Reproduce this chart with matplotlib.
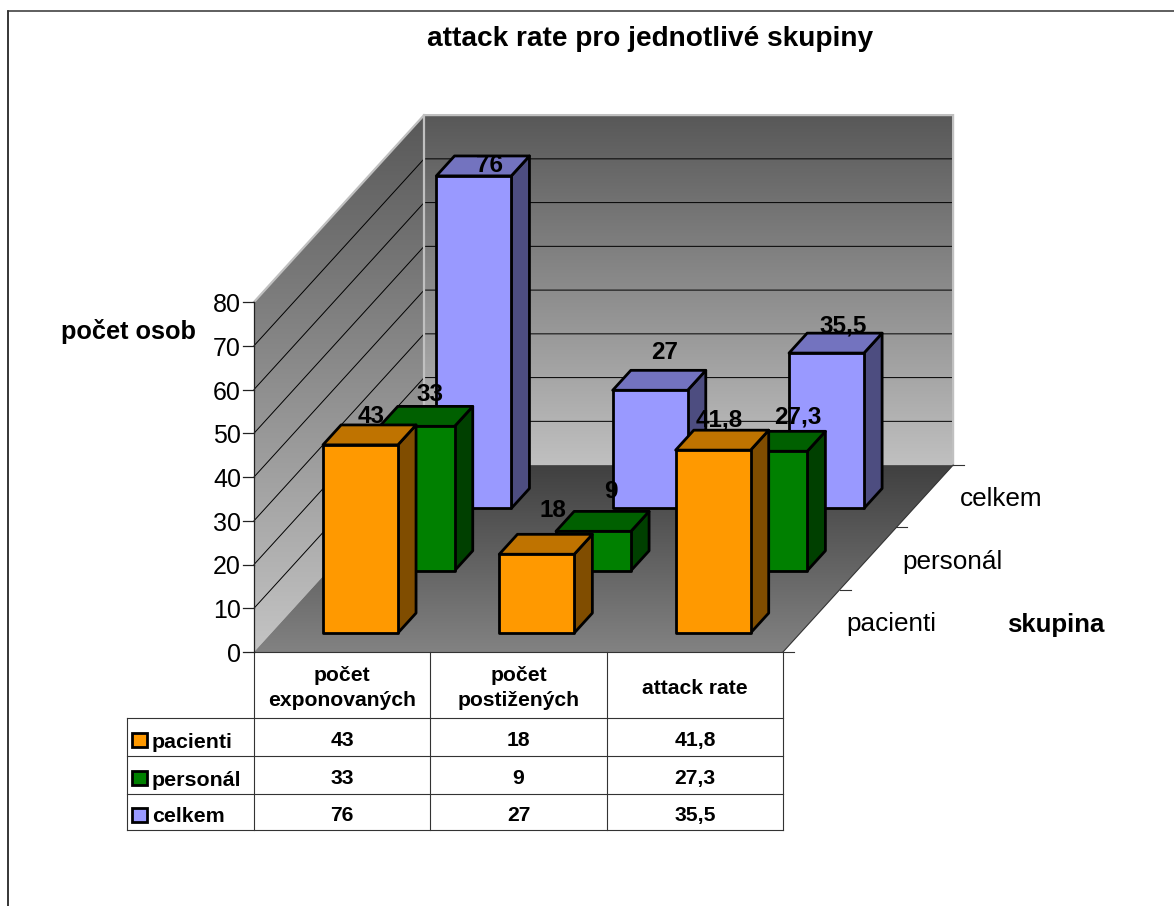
import numpy as np
import matplotlib
matplotlib.use('Agg')
import matplotlib.pyplot as plt
from matplotlib.colors import LinearSegmentedColormap
from matplotlib.patches import Polygon, Rectangle

plt.rcParams['font.family'] = ['Liberation Sans', 'DejaVu Sans']

categories = ['počet\nexponovaných', 'počet\npostižených', 'attack rate']
series_names = ['pacienti', 'personál', 'celkem']
pacienti = [43, 18, 41.8]
personal = [33, 9, 27.3]
celkem = [76, 27, 35.5]
y_ticks = [0, 10, 20, 30, 40, 50, 60, 70, 80]

series_values = [pacienti, personal, celkem]
face_colors = ['#FF9900', '#008000', '#9999FF']
top_colors = ['#BF7300', '#006000', '#7373BF']
side_colors = ['#804D00', '#004000', '#4D4D80']

# shift of each value label from the middle of the bar's top, in pixels
label_shift = [[(2, -8), (7, -24), (-3, -10)],
               [(4, -12), (8, -20), (19, -14)],
               [(7, 10), (5, -18), (8, -7)]]

# oblique projection of the chart box
X0, Y0 = 254, 652
CAT_W = 176.33
DEPTH_X, DEPTH_Y = 56.7, 62.3
UNIT = 4.375
Y_MAX = 80


def project(cat, depth, value):
    return X0 + cat * CAT_W + depth * DEPTH_X, Y0 - value * UNIT - depth * DEPTH_Y


def gradient_poly(ax, points, top, bottom):
    poly = Polygon(points, closed=True, fc='none', ec='none', transform=ax.transData)
    ax.add_patch(poly)
    xs = [p[0] for p in points]
    ys = [p[1] for p in points]
    cmap = LinearSegmentedColormap.from_list('wall', [top, bottom])
    grad = np.linspace(0, 1, 256).reshape(-1, 1)
    img = ax.imshow(grad, cmap=cmap, aspect='auto', zorder=1, interpolation='bilinear',
                    extent=(min(xs), max(xs), max(ys), min(ys)))
    img.set_clip_path(poly)


fig = plt.figure(figsize=(11.74, 9.06), dpi=100)
ax = fig.add_axes([0, 0, 1, 1])

n_cat = len(categories)
n_ser = len(series_names)

# walls and floor
back_wall = [project(0, n_ser, 0), project(n_cat, n_ser, 0),
             project(n_cat, n_ser, Y_MAX), project(0, n_ser, Y_MAX)]
side_wall = [project(0, 0, 0), project(0, n_ser, 0),
             project(0, n_ser, Y_MAX), project(0, 0, Y_MAX)]
floor = [project(0, 0, 0), project(n_cat, 0, 0),
         project(n_cat, n_ser, 0), project(0, n_ser, 0)]
gradient_poly(ax, back_wall, '#585858', '#C0C0C0')
gradient_poly(ax, side_wall, '#585858', '#C4C4C4')
gradient_poly(ax, floor, '#404040', '#828282')

# gridlines
for tick in y_ticks[1:-1]:
    a = project(0, 0, tick)
    b = project(0, n_ser, tick)
    c = project(n_cat, n_ser, tick)
    ax.plot([a[0], b[0], c[0]], [a[1], b[1], c[1]], color='black', lw=0.7, zorder=2)

# light wall edges
edge = [project(0, 0, Y_MAX), project(0, n_ser, Y_MAX), project(n_cat, n_ser, Y_MAX),
        project(n_cat, n_ser, 0)]
ax.plot([p[0] for p in edge], [p[1] for p in edge], color='#C0C0C0', lw=1.6, zorder=2.2,
        solid_joinstyle='miter')
ax.plot([back_wall[0][0], back_wall[3][0]], [back_wall[0][1], back_wall[3][1]],
        color='#C0C0C0', lw=1.6, zorder=2.2)

# value axis
ax.plot([X0, X0], [project(0, 0, 0)[1], project(0, 0, Y_MAX)[1]], color='#222222', lw=0.9, zorder=2.5)
for tick in y_ticks:
    x, y = project(0, 0, tick)
    ax.plot([x - 11, x], [y, y], color='#222222', lw=0.9, zorder=2.5)
    ax.text(x - 13, y + 3, str(tick), ha='right', va='center', fontsize=18, color='black')

# depth axis
a = project(n_cat, 0, 0)
b = project(n_cat, n_ser, 0)
ax.plot([a[0], b[0]], [a[1], b[1]], color='#333333', lw=0.8, zorder=2.5)
for d in range(n_ser + 1):
    x, y = project(n_cat, d, 0)
    ax.plot([x, x + 11], [y, y], color='#333333', lw=0.8, zorder=2.5)
for d, name in enumerate(series_names):
    x, y = project(n_cat, d, 0)
    ax.text(x + 63, y - 28, name, ha='left', va='center', fontsize=18.8, color='black')

# bars, back to front
BAR_W = 0.425
BAR_X = 0.293
BAR_D = 0.32
BAR_Z = 0.305
LINE = 2.0
z = 3
for s in range(n_ser - 1, -1, -1):
    for c in range(n_cat):
        v = series_values[s][c]
        c0, c1 = c + BAR_X, c + BAR_X + BAR_W
        d0, d1 = s + BAR_Z, s + BAR_Z + BAR_D
        front = [project(c0, d0, 0), project(c1, d0, 0), project(c1, d0, v), project(c0, d0, v)]
        top = [project(c0, d0, v), project(c1, d0, v), project(c1, d1, v), project(c0, d1, v)]
        side = [project(c1, d0, 0), project(c1, d1, 0), project(c1, d1, v), project(c1, d0, v)]

        label_x = project((c0 + c1) / 2, (d0 + d1) / 2, v)[0]
        label_y = project((c0 + c1) / 2, d1, v)[1]
        sx, sy = label_shift[s][c]
        # labels of the two front rows sit behind their own bar, the back row in front
        label_z = z + 1.5 if s == n_ser - 1 else z - 0.5
        ax.text(label_x + sx, label_y + sy, str(v).replace('.', ','), ha='center', va='center',
                fontsize=17.5, fontweight='bold', color='black', zorder=label_z)

        ax.add_patch(Polygon(side, closed=True, fc=side_colors[s], ec='black', lw=LINE, zorder=z,
                             joinstyle='round'))
        ax.add_patch(Polygon(top, closed=True, fc=top_colors[s], ec='black', lw=LINE, zorder=z,
                             joinstyle='round'))
        ax.add_patch(Polygon(front, closed=True, fc=face_colors[s], ec='black', lw=LINE, zorder=z,
                             joinstyle='round'))
        z += 2

# data table
col_x = [X0 + i * CAT_W for i in range(n_cat + 1)]
row_y = [652, 718, 756, 794, 830]
TABLE_LEFT = 127
for x in col_x:
    ax.plot([x, x], [row_y[0], row_y[-1]], color='#333333', lw=0.8, zorder=2)
ax.plot([col_x[0], col_x[-1]], [row_y[0], row_y[0]], color='#333333', lw=0.8, zorder=2)
for y in row_y[1:]:
    ax.plot([TABLE_LEFT, col_x[-1]], [y, y], color='#333333', lw=0.8, zorder=2)
ax.plot([TABLE_LEFT, TABLE_LEFT], [row_y[1], row_y[-1]], color='#333333', lw=0.8, zorder=2)

for c, name in enumerate(categories):
    ax.text((col_x[c] + col_x[c + 1]) / 2, (row_y[0] + row_y[1]) / 2 + 3, name, ha='center', va='center',
            fontsize=15.2, fontweight='bold', linespacing=1.43)
for s, name in enumerate(series_names):
    yc = (row_y[s + 1] + row_y[s + 2]) / 2
    ax.add_patch(Rectangle((132, yc - 4.5), 14.5, 14.5, fc=face_colors[s], ec='black', lw=2, zorder=3))
    ax.text(152, yc + 5, name, ha='left', va='center', fontsize=15.4, fontweight='bold')
    for c in range(n_cat):
        ax.text((col_x[c] + col_x[c + 1]) / 2, yc + 3.5, str(series_values[s][c]).replace('.', ','),
                ha='center', va='center', fontsize=15.2, fontweight='bold')

# titles
ax.text(650.5, 39, 'attack rate pro jednotlivé skupiny', ha='center', va='center', fontsize=20.2,
        fontweight='bold')
ax.text(128, 332, 'počet osob', ha='center', va='center', fontsize=18.3, fontweight='bold')
ax.text(1055.5, 625, 'skupina', ha='center', va='center', fontsize=18.6, fontweight='bold')

# chart frame, running off the right and bottom of the canvas
ax.plot([8, 8], [906, 11], color='black', lw=1.1, zorder=10)
ax.plot([8, 1174], [11, 11], color='#333333', lw=1.1, zorder=10)

ax.set_xlim(0, 1174)
ax.set_ylim(906, 0)
ax.axis('off')

fig.savefig('out.png', dpi=100, facecolor='white')
